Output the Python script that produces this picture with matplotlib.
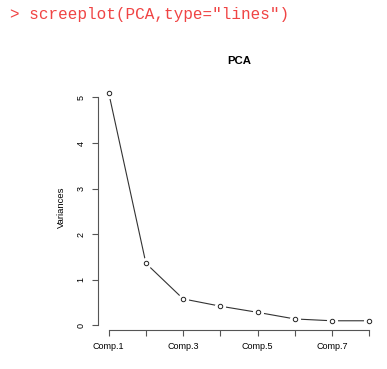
import matplotlib.pyplot as plt

# scree plot values
comps = ["Comp.1", "Comp.2", "Comp.3", "Comp.4", "Comp.5", "Comp.6", "Comp.7", "Comp.8"]
variances = [5.10, 1.36, 0.58, 0.42, 0.285, 0.14, 0.10, 0.10]
yticks = [0, 1, 2, 3, 4, 5]

plt.rcParams['font.family'] = ['Liberation Sans', 'DejaVu Sans']

fig = plt.figure(figsize=(3.87, 3.69), dpi=100)
ax = fig.add_axes([0.254, 0.106, 0.727, 0.667])

x = list(range(1, len(comps) + 1))
ax.plot(x, variances, color='#333333', lw=0.8, zorder=1)
# white halo so the line stops short of each point, like R type="b"
ax.plot(x, variances, 'o', ms=7, mfc='white', mec='white', zorder=2)
ax.plot(x, variances, 'o', ms=3.2, mfc='white', mec='#222222', mew=0.7, zorder=3)

ax.set_xlim(0.72, 8.28)
ax.set_ylim(-0.1, 5.3)

for s in ['top', 'right']:
    ax.spines[s].set_visible(False)
ax.spines['left'].set_bounds(0, 5)
ax.spines['bottom'].set_bounds(1, 8)
ax.spines['left'].set_position(('outward', 0))
for s in ['left', 'bottom']:
    ax.spines[s].set_color('#555555')
    ax.spines[s].set_linewidth(0.8)

ax.set_xticks(x)
ax.set_xticklabels([c if i % 2 == 0 else "" for i, c in enumerate(comps)])
ax.set_yticks(yticks)
ax.set_yticklabels([str(v) for v in yticks], rotation=90, va='center')
ax.tick_params(length=4, width=0.8, color='#555555', labelsize=6.5, pad=5)

ax.set_ylabel("Variances", fontsize=6.8, labelpad=8)
ax.set_title("PCA", fontsize=8.2, fontweight='bold', pad=14)

fig.text(0.026, 0.962, '> screeplot(PCA,type="lines")', family=['Liberation Mono', 'DejaVu Sans Mono'],
         fontsize=11.5, color='#f04444', va='center', ha='left')

fig.savefig("out.png", dpi=100)
